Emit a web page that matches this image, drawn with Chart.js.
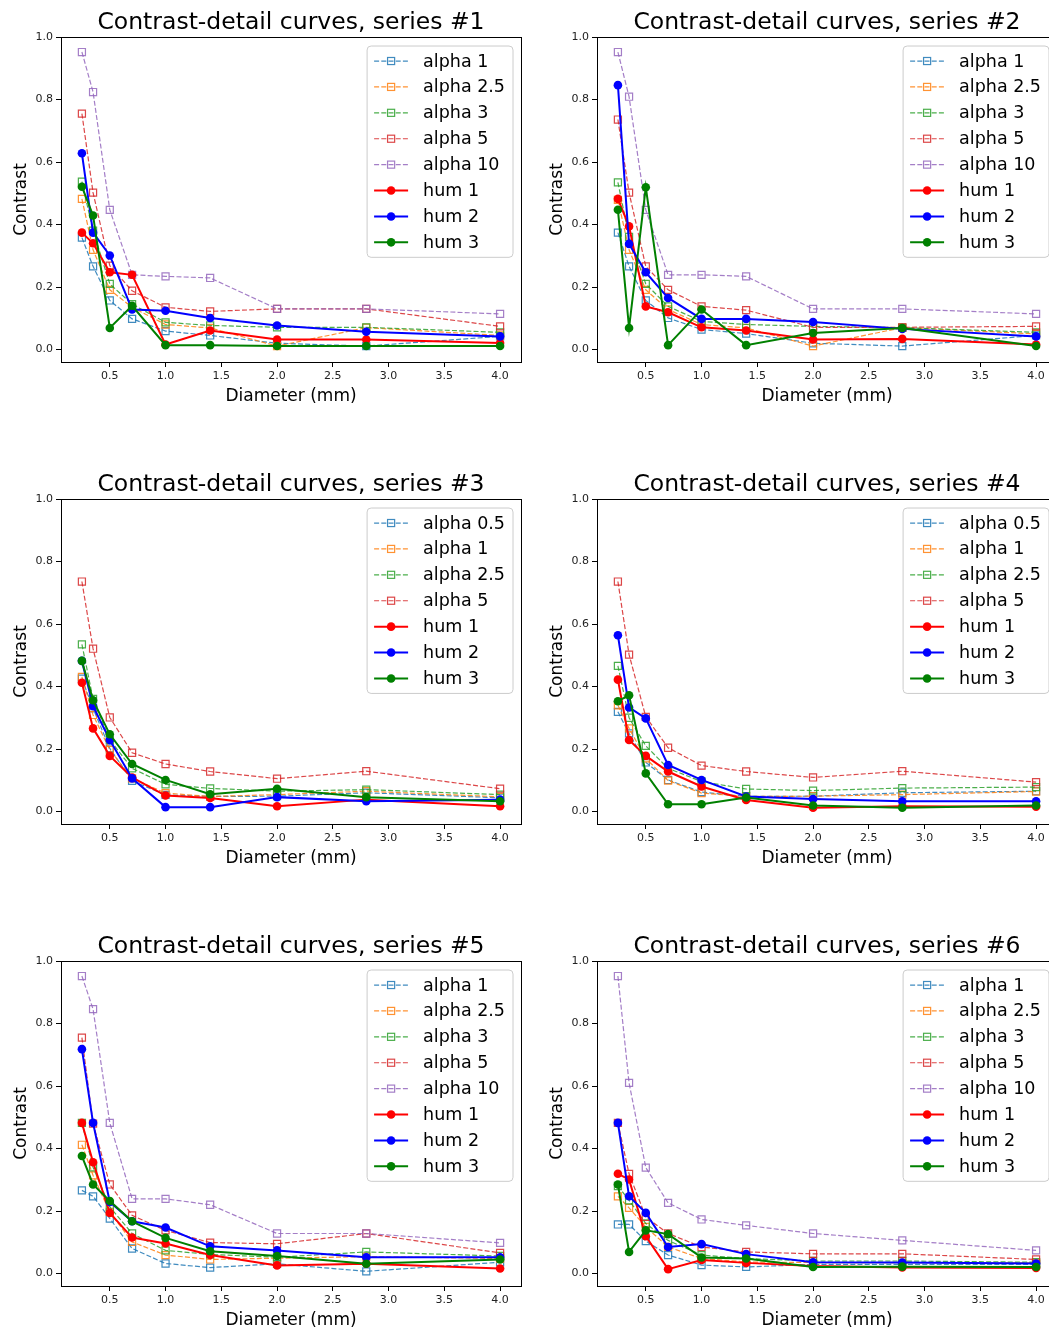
<!DOCTYPE html>
<html>
<head>
<meta charset="utf-8">
<script src="https://cdn.jsdelivr.net/npm/chart.js@4.4.1/dist/chart.umd.min.js"></script>
<style>
  html, body { margin: 0; padding: 0; background: #fff; }
  body { width: 1049px; height: 1329px; overflow: hidden; position: relative; }
  canvas { position: absolute; }
</style>
</head>
<body>
<canvas id="cd1" width="536" height="462" style="left:0px;top:0px"></canvas>
<canvas id="cd2" width="536" height="462" style="left:536px;top:0px"></canvas>
<canvas id="cd3" width="536" height="462" style="left:0px;top:462px"></canvas>
<canvas id="cd4" width="536" height="462" style="left:536px;top:462px"></canvas>
<canvas id="cd5" width="536" height="462" style="left:0px;top:924px"></canvas>
<canvas id="cd6" width="536" height="462" style="left:536px;top:924px"></canvas>
<script>
// detail diameters (mm) and axis ticks
const diameters = [0.25, 0.35, 0.5, 0.7, 1.0, 1.4, 2.0, 2.8, 4.0];
const xTicks = [0.5, 1.0, 1.5, 2.0, 2.5, 3.0, 3.5, 4.0];
const yTicks = [0.0, 0.2, 0.4, 0.6, 0.8, 1.0];

// series names
const namesA = ['alpha 1', 'alpha 2.5', 'alpha 3', 'alpha 5', 'alpha 10', 'hum 1', 'hum 2', 'hum 3'];
const namesB = ['alpha 0.5', 'alpha 1', 'alpha 2.5', 'alpha 5', 'hum 1', 'hum 2', 'hum 3'];

// contrast values, one row per series (same order as the names)
const series1 = [
  [0.358, 0.266, 0.157, 0.098, 0.059, 0.045, 0.020, 0.011, 0.042],
  [0.482, 0.319, 0.191, 0.135, 0.080, 0.069, 0.011, 0.070, 0.045],
  [0.537, 0.380, 0.210, 0.145, 0.087, 0.077, 0.071, 0.071, 0.055],
  [0.755, 0.502, 0.268, 0.188, 0.135, 0.122, 0.130, 0.130, 0.074],
  [0.952, 0.824, 0.447, 0.239, 0.234, 0.229, 0.130, 0.130, 0.114],
  [0.374, 0.340, 0.247, 0.239, 0.016, 0.061, 0.032, 0.032, 0.021],
  [0.628, 0.374, 0.301, 0.128, 0.124, 0.101, 0.077, 0.057, 0.042],
  [0.521, 0.429, 0.069, 0.140, 0.014, 0.014, 0.011, 0.011, 0.011]
];
const series2 = [
  [0.374, 0.266, 0.157, 0.101, 0.064, 0.051, 0.020, 0.011, 0.045],
  [0.479, 0.319, 0.191, 0.128, 0.080, 0.069, 0.011, 0.070, 0.050],
  [0.535, 0.360, 0.210, 0.138, 0.090, 0.080, 0.074, 0.070, 0.055],
  [0.736, 0.502, 0.266, 0.191, 0.138, 0.126, 0.071, 0.071, 0.074],
  [0.952, 0.809, 0.447, 0.239, 0.239, 0.234, 0.130, 0.130, 0.114],
  [0.482, 0.394, 0.138, 0.119, 0.071, 0.061, 0.032, 0.034, 0.016],
  [0.846, 0.338, 0.247, 0.165, 0.098, 0.098, 0.088, 0.066, 0.042],
  [0.447, 0.069, 0.519, 0.014, 0.128, 0.014, 0.053, 0.069, 0.011]
];
const series3 = [
  [0.425, 0.330, 0.202, 0.098, 0.053, 0.048, 0.049, 0.060, 0.044],
  [0.431, 0.309, 0.197, 0.106, 0.059, 0.048, 0.054, 0.065, 0.047],
  [0.535, 0.360, 0.229, 0.138, 0.087, 0.074, 0.065, 0.070, 0.054],
  [0.736, 0.521, 0.301, 0.188, 0.152, 0.128, 0.105, 0.129, 0.073],
  [0.412, 0.266, 0.178, 0.109, 0.051, 0.043, 0.017, 0.038, 0.017],
  [0.482, 0.337, 0.229, 0.106, 0.014, 0.014, 0.046, 0.033, 0.038],
  [0.482, 0.356, 0.247, 0.152, 0.101, 0.055, 0.073, 0.046, 0.033]
];
const series4 = [
  [0.319, 0.250, 0.157, 0.101, 0.062, 0.048, 0.049, 0.060, 0.065],
  [0.340, 0.266, 0.170, 0.099, 0.059, 0.048, 0.049, 0.054, 0.064],
  [0.466, 0.300, 0.210, 0.138, 0.096, 0.072, 0.067, 0.075, 0.078],
  [0.736, 0.502, 0.303, 0.204, 0.147, 0.128, 0.109, 0.129, 0.094],
  [0.422, 0.229, 0.178, 0.128, 0.080, 0.037, 0.012, 0.017, 0.015],
  [0.564, 0.333, 0.298, 0.149, 0.101, 0.048, 0.040, 0.033, 0.033],
  [0.353, 0.372, 0.122, 0.023, 0.023, 0.045, 0.019, 0.012, 0.019]
];
const series5 = [
  [0.266, 0.247, 0.176, 0.080, 0.032, 0.019, 0.031, 0.007, 0.036],
  [0.412, 0.314, 0.197, 0.101, 0.059, 0.045, 0.049, 0.054, 0.048],
  [0.482, 0.340, 0.213, 0.128, 0.074, 0.061, 0.052, 0.069, 0.056],
  [0.755, 0.480, 0.285, 0.186, 0.138, 0.099, 0.095, 0.128, 0.066],
  [0.952, 0.846, 0.482, 0.239, 0.239, 0.220, 0.128, 0.128, 0.098],
  [0.482, 0.356, 0.194, 0.115, 0.096, 0.059, 0.026, 0.031, 0.016],
  [0.718, 0.482, 0.229, 0.167, 0.147, 0.087, 0.074, 0.052, 0.052],
  [0.376, 0.285, 0.232, 0.167, 0.114, 0.071, 0.056, 0.031, 0.045]
];
const series6 = [
  [0.157, 0.157, 0.104, 0.059, 0.027, 0.021, 0.029, 0.029, 0.029],
  [0.247, 0.210, 0.149, 0.085, 0.048, 0.037, 0.035, 0.035, 0.034],
  [0.280, 0.234, 0.160, 0.106, 0.059, 0.048, 0.040, 0.040, 0.036],
  [0.482, 0.319, 0.181, 0.128, 0.085, 0.069, 0.063, 0.063, 0.045],
  [0.952, 0.610, 0.339, 0.226, 0.173, 0.154, 0.128, 0.106, 0.074],
  [0.319, 0.301, 0.119, 0.014, 0.043, 0.034, 0.024, 0.019, 0.018],
  [0.482, 0.247, 0.194, 0.085, 0.094, 0.062, 0.036, 0.035, 0.032],
  [0.285, 0.069, 0.138, 0.126, 0.051, 0.048, 0.021, 0.022, 0.021]
];

const alphaColors = ['rgba(31,119,180,0.85)', 'rgba(255,127,14,0.85)', 'rgba(44,160,44,0.85)',
                     'rgba(214,39,40,0.85)', 'rgba(148,103,189,0.85)'];
const humColors = ['#ff0000', '#0000ff', '#008000'];
const FONT = '"DejaVu Sans", "Liberation Sans", sans-serif';

// box around the axes plus a matplotlib-style legend in the upper right corner
const frameAndLegend = {
  id: 'frameAndLegend',
  afterDatasetsDraw(chart) {
    const { ctx, chartArea: a } = chart;
    ctx.save();
    ctx.setLineDash([]);
    ctx.strokeStyle = '#000';
    ctx.lineWidth = 1;
    const l = Math.floor(a.left) + 0.5, t = Math.floor(a.top) + 0.5;
    ctx.strokeRect(l, t, Math.round(a.right - a.left), Math.round(a.bottom - a.top));

    const sets = chart.data.datasets;
    ctx.font = '17.5px ' + FONT;
    const textW = Math.max(...sets.map(d => ctx.measureText(d.label).width));
    const w = 7 + 34 + 15 + textW + 8;
    const h = 15 + (sets.length - 1) * 25.9 + 15;
    const x0 = a.right - 8 - w, y0 = a.top + 9;
    ctx.beginPath();
    ctx.roundRect(x0, y0, w, h, 4);
    ctx.fillStyle = 'rgba(255,255,255,0.8)';
    ctx.fill();
    ctx.strokeStyle = '#cccccc';
    ctx.stroke();

    sets.forEach((d, i) => {
      const cy = y0 + 15 + i * 25.9;
      ctx.setLineDash(d.borderDash || []);
      ctx.strokeStyle = d.borderColor;
      ctx.lineWidth = d.borderWidth;
      ctx.beginPath();
      ctx.moveTo(x0 + 7, cy);
      ctx.lineTo(x0 + 41, cy);
      ctx.stroke();
      ctx.setLineDash([]);
      const mx = x0 + 24;
      if (d.pointStyle === 'rect') {
        const s = d.pointRadius * Math.SQRT1_2;
        ctx.lineWidth = d.pointBorderWidth;
        ctx.strokeRect(mx - s, cy - s, 2 * s, 2 * s);
      } else {
        ctx.fillStyle = d.pointBackgroundColor;
        ctx.beginPath();
        ctx.arc(mx, cy, d.pointRadius, 0, Math.PI * 2);
        ctx.fill();
      }
      ctx.fillStyle = '#000';
      ctx.textBaseline = 'middle';
      ctx.textAlign = 'left';
      ctx.fillText(d.label, x0 + 56, cy + 1);
    });
    ctx.restore();
  }
};

function makeDataset(name, values, colorIdx) {
  const points = diameters.map((x, k) => ({ x: x, y: values[k] }));
  if (name.startsWith('alpha')) {
    const c = alphaColors[colorIdx];
    return {
      label: name, data: points,
      borderColor: c, borderWidth: 1.2, borderDash: [5, 2.2],
      pointStyle: 'rect', pointRadius: 5, pointBorderWidth: 1.2,
      pointBorderColor: c, pointBackgroundColor: 'rgba(0,0,0,0)'
    };
  }
  const c = humColors[Number(name.split(' ')[1]) - 1];
  return {
    label: name, data: points,
    borderColor: c, borderWidth: 2,
    pointStyle: 'circle', pointRadius: 4.3, pointBorderWidth: 0,
    pointBackgroundColor: c, pointBorderColor: c
  };
}

function drawPanel(id, num, names, values) {
  let alphaIdx = 0;
  const datasets = names.map((name, i) => {
    const ds = makeDataset(name, values[i], alphaIdx);
    if (name.startsWith('alpha')) alphaIdx++;
    // later series are painted on top
    ds.order = names.length - i;
    return ds;
  });

  new Chart(document.getElementById(id), {
    type: 'line',
    data: { datasets: datasets },
    options: {
      responsive: false,
      animation: false,
      events: [],
      layout: { padding: { left: 0, right: 15, top: 0, bottom: 53 } },
      elements: { line: { tension: 0, fill: false } },
      plugins: {
        legend: { display: false },
        tooltip: { enabled: false },
        title: {
          display: true,
          text: 'Contrast-detail curves, series #' + num,
          fullSize: false,
          color: '#000',
          font: { family: FONT, size: 23.5, weight: 'normal', lineHeight: 1.15 },
          padding: { top: 9.5, bottom: 0.5 }
        }
      },
      scales: {
        x: {
          type: 'linear', min: 0.0625, max: 4.1875,
          afterBuildTicks: s => { s.ticks = xTicks.map(v => ({ value: v })); },
          afterFit: s => { s.height = 47; },
          grid: { drawOnChartArea: false, drawTicks: true, tickLength: 5, color: '#000' },
          border: { display: false },
          ticks: {
            padding: 3, color: '#222', maxRotation: 0,
            font: { family: FONT, size: 11 },
            callback: v => v.toFixed(1)
          },
          title: {
            display: true, text: 'Diameter (mm)', color: '#000',
            font: { family: FONT, size: 17 }, padding: { top: 0, bottom: 1.8 }
          }
        },
        y: {
          type: 'linear', min: -0.04, max: 1.0,
          afterBuildTicks: s => { s.ticks = yTicks.map(v => ({ value: v })); },
          afterFit: s => { s.width = 61; },
          grid: { drawOnChartArea: false, drawTicks: true, tickLength: 5, color: '#000' },
          border: { display: false },
          ticks: {
            padding: 3, color: '#222',
            font: { family: FONT, size: 11 },
            callback: v => v.toFixed(1)
          },
          title: {
            display: true, text: 'Contrast', color: '#000',
            font: { family: FONT, size: 17 }, padding: { top: 11.5, bottom: 0 }
          }
        }
      }
    },
    plugins: [frameAndLegend]
  });
}

drawPanel('cd1', 1, namesA, series1);
drawPanel('cd2', 2, namesA, series2);
drawPanel('cd3', 3, namesB, series3);
drawPanel('cd4', 4, namesB, series4);
drawPanel('cd5', 5, namesA, series5);
drawPanel('cd6', 6, namesA, series6);
</script>
</body>
</html>
